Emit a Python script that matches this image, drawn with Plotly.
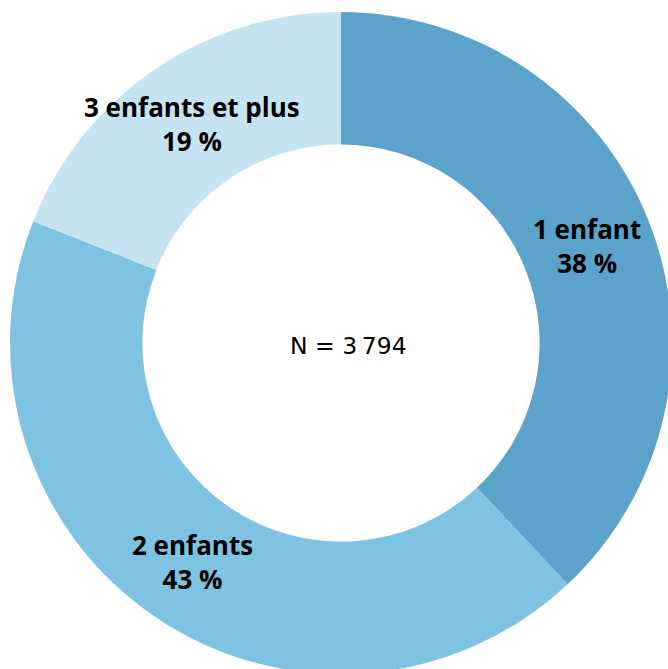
import numpy as np
import plotly.graph_objects as go

labels = ["1 enfant", "2 enfants", "3 enfants et plus"]
values = [38, 43, 19]
colors = ["#5BA3CB", "#7FC3E2", "#C5E3F1"]
total_label = "N = 3\u202f794"

W, H = 680, 680
HOLE = 0.6
# pie spills past the window edge like the original
dom_x = [10 / W, 672 / W]
dom_y = [1 - 674 / H, 1 - 12 / H]

fig = go.Figure(go.Pie(
    labels=labels,
    values=values,
    sort=False,
    direction="clockwise",
    rotation=0,
    hole=HOLE,
    marker=dict(colors=colors, line=dict(width=0)),
    textinfo="none",
    hoverinfo="skip",
    domain=dict(x=dom_x, y=dom_y),
))

# labels centred on the middle of each ring segment
cx, cy = sum(dom_x) / 2, sum(dom_y) / 2
rx = (dom_x[1] - dom_x[0]) / 2 * (1 + HOLE) / 2
ry = (dom_y[1] - dom_y[0]) / 2 * (1 + HOLE) / 2
frac = np.array(values) / sum(values)
mids = (np.cumsum(frac) - frac / 2) * 2 * np.pi
for lab, val, a in zip(labels, values, mids):
    fig.add_annotation(
        text=f"<b>{lab}</b><br><b>{val} %</b>",
        x=cx + rx * np.sin(a), y=cy + ry * np.cos(a),
        xref="paper", yref="paper", xanchor="center", yanchor="middle",
        showarrow=False,
        font=dict(family="Open Sans", size=26, color="black"),
    )

fig.add_annotation(
    text=total_label, x=cx, y=cy, xref="paper", yref="paper",
    xanchor="center", yanchor="middle", xshift=7, yshift=-3,
    showarrow=False, font=dict(family="DejaVu Sans", size=23.5, color="black"),
)

fig.update_layout(
    width=W, height=H,
    margin=dict(l=0, r=0, t=0, b=0),
    showlegend=False,
    paper_bgcolor="white",
)

fig.write_html(
    "out.html", default_width=f"{W}px", default_height=f"{H}px",
    config={"displayModeBar": False},
    post_script="document.body.style.margin='0';"
                "document.documentElement.style.overflow='hidden';",
)
